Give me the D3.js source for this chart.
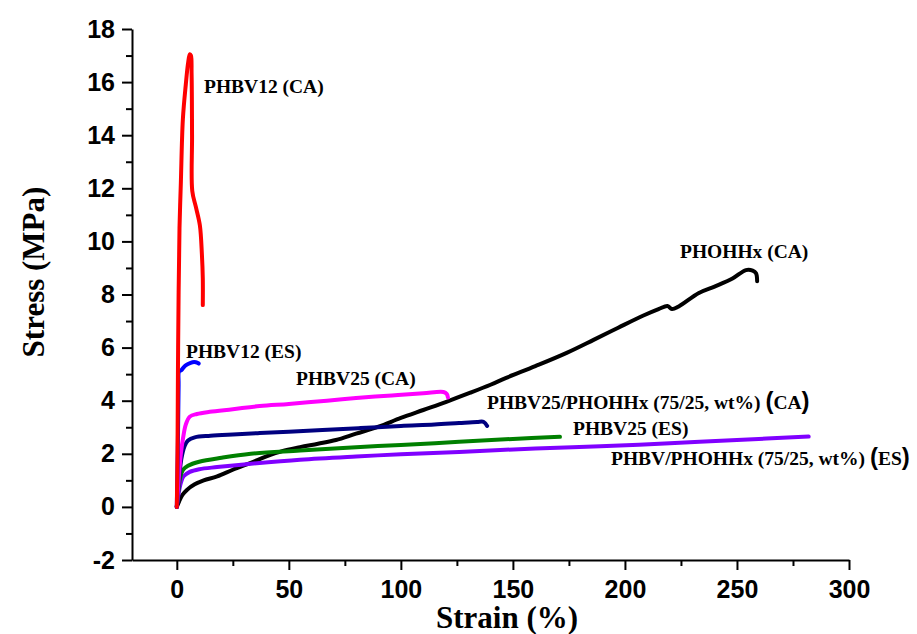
<!DOCTYPE html>
<html>
<head>
<meta charset="utf-8">
<script src="https://cdn.jsdelivr.net/npm/d3@7"></script>
<style>
  body { margin: 0; background: #fff; }
  .tick text { font-family: "Liberation Sans", Arial, sans-serif; font-weight: bold; font-size: 25px; fill: #000; }
  .lbl { font-family: "Liberation Serif", "Times New Roman", serif; font-weight: bold; font-size: 19.5px; fill: #000; }
  .title { font-family: "Liberation Serif", "Times New Roman", serif; font-weight: bold; font-size: 31px; fill: #000; }
</style>
</head>
<body>
<svg id="chart" width="917" height="634"></svg>
<script>
// stress-strain curves, [strain %, stress MPa]
const phbv12CA = [[0,0],[0.3,2],[0.5,5],[0.8,8],[1.2,10.5],[1.8,12.2],[2.7,14.6],[4,15.9],[5,16.7],[5.8,17.05],[6.3,17.0],[6.6,16.3],[6.8,14],[6.9,11.9],[8.5,11.3],[10.3,10.6],[11.2,9.5],[11.6,8.6],[11.6,7.6]];
const phbv12ES = [[0,0],[0.5,2.5],[0.8,4.6],[1,5.1],[2,5.15],[3.5,5.3],[5,5.38],[7,5.45],[8.5,5.45],[9.8,5.4]];
const phbv25CA = [[0,0],[0.8,1],[1.8,2],[2.8,2.6],[4,3.1],[5.8,3.4],[9,3.5],[14.7,3.58],[25,3.68],[37,3.8],[50,3.88],[67,4.0],[80,4.1],[96,4.2],[110,4.28],[119,4.33],[120.5,4.25],[121,4.12]];
const blendCA = [[0,0],[1,1],[2,1.8],[3.5,2.3],[5,2.5],[8,2.62],[15,2.68],[25,2.73],[37,2.78],[50,2.83],[65,2.9],[82,2.97],[100,3.05],[115,3.1],[126,3.16],[134,3.2],[137,3.2],[138.5,3.05]];
const phbv25ES = [[0,0],[0.8,0.7],[1.5,1.1],[2.7,1.39],[5,1.55],[10,1.7],[20,1.85],[33,2.0],[55,2.12],[80,2.25],[100,2.33],[126,2.45],[150,2.56],[171,2.64]];
const blendES = [[0,0],[0.8,0.5],[1.8,0.9],[3,1.15],[5.8,1.32],[10,1.42],[18,1.5],[30,1.6],[55,1.78],[80,1.9],[100,1.98],[126,2.07],[160,2.2],[189,2.28],[220,2.4],[250,2.52],[282,2.65]];
const phohhxCA = [[0,0],[1,0.2],[2.5,0.45],[4.5,0.64],[8,0.85],[12,1.0],[18,1.15],[25,1.4],[33,1.66],[40,1.9],[47,2.1],[55,2.25],[63,2.38],[71,2.52],[80,2.76],[90,3.02],[100,3.35],[110,3.65],[120,3.95],[131,4.3],[140,4.6],[147,4.86],[160,5.3],[174,5.8],[186,6.29],[197,6.75],[208,7.2],[215,7.45],[219,7.57],[221,7.45],[224,7.55],[233,8.06],[240,8.3],[248,8.6],[254,8.92],[257,8.9],[258.5,8.8],[259,8.5]];

const seriesNames = ["PHOHHx (CA)", "PHBV/PHOHHx (ES)", "PHBV25 (ES)", "PHBV25/PHOHHx (CA)", "PHBV25 (CA)", "PHBV12 (ES)", "PHBV12 (CA)"];
const seriesData = [phohhxCA, blendES, phbv25ES, blendCA, phbv25CA, phbv12ES, phbv12CA];
const seriesColors = ["#000000", "#8000ff", "#008000", "#000080", "#ff00ff", "#0000ff", "#ff0000"];

const xMajor = [0, 50, 100, 150, 200, 250, 300];
const xMinor = [25, 75, 125, 175, 225, 275];
const yMajor = [-2, 0, 2, 4, 6, 8, 10, 12, 14, 16, 18];
const yMinor = [-1, 1, 3, 5, 7, 9, 11, 13, 15, 17];

const svg = d3.select("#chart");

const x = d3.scaleLinear().domain([-20, 300]).range([132, 849]);
const y = d3.scaleLinear().domain([-2, 18]).range([560, 29]);

// minor ticks first, then major axis on top
svg.append("g")
    .attr("transform", "translate(0,560)")
    .call(d3.axisBottom(x).tickValues(xMinor).tickSize(6).tickSizeOuter(0).tickFormat(""))
    .call(g => g.select(".domain").remove());
svg.append("g")
    .attr("transform", "translate(132,0)")
    .call(d3.axisLeft(y).tickValues(yMinor).tickSize(6).tickSizeOuter(0).tickFormat(""))
    .call(g => g.select(".domain").remove());

svg.append("g")
    .attr("transform", "translate(0,560)")
    .call(d3.axisBottom(x).tickValues(xMajor).tickSize(10).tickSizeOuter(0).tickPadding(10).tickFormat(d => String(d)));
svg.append("g")
    .attr("transform", "translate(132,0)")
    .call(d3.axisLeft(y).tickValues(yMajor).tickSize(10).tickSizeOuter(0).tickPadding(7).tickFormat(d => String(d)));

svg.selectAll(".domain, .tick line").attr("stroke", "#000").attr("stroke-width", 2);

// curves
const line = d3.line()
    .x(d => x(d[0]))
    .y(d => y(d[1]))
    .curve(d3.curveCatmullRom.alpha(0.5));

svg.append("g")
    .selectAll("path")
    .data(seriesData)
    .enter()
    .append("path")
    .attr("d", line)
    .attr("fill", "none")
    .attr("stroke", (d, i) => seriesColors[i])
    .attr("stroke-width", 4)
    .attr("stroke-linejoin", "round")
    .attr("stroke-linecap", "round");

// curve labels
const labels = [
  { x: 204, y: 93, text: "PHBV12 (CA)" },
  { x: 186, y: 358, text: "PHBV12 (ES)" },
  { x: 296, y: 385, text: "PHBV25 (CA)" },
  { x: 680, y: 258, text: "PHOHHx (CA)" },
  { x: 573, y: 435, text: "PHBV25 (ES)" },
  { x: 487, y: 409, text: "PHBV25/PHOHHx (75/25, wt%) ", tag: "CA" },
  { x: 611, y: 465, text: "PHBV/PHOHHx (75/25, wt%) ", tag: "ES" }
];

labels.forEach(l => {
  const t = svg.append("text").attr("class", "lbl").attr("x", l.x).attr("y", l.y);
  t.append("tspan").text(l.text);
  if (l.tag) {
    t.append("tspan").attr("style", "font-family:'Liberation Sans',Arial,sans-serif;font-size:24px").text("(");
    t.append("tspan").text(l.tag);
    t.append("tspan").attr("style", "font-family:'Liberation Sans',Arial,sans-serif;font-size:24px").text(")");
  }
});

// axis titles
svg.append("text")
    .attr("class", "title")
    .attr("x", 507)
    .attr("y", 628)
    .attr("text-anchor", "middle")
    .text("Strain (%)");

svg.append("text")
    .attr("class", "title")
    .attr("transform", "translate(44,272) rotate(-90)")
    .attr("text-anchor", "middle")
    .text("Stress (MPa)");
</script>
</body>
</html>
